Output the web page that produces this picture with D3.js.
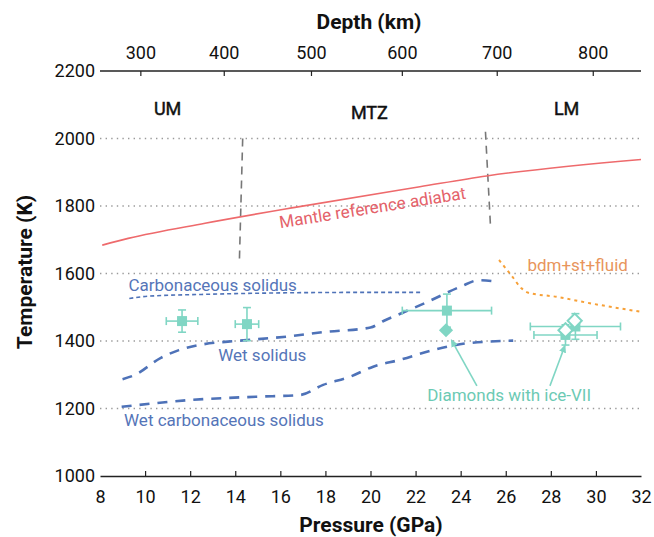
<!DOCTYPE html>
<html>
<head>
<meta charset="utf-8">
<script src="https://cdn.jsdelivr.net/npm/d3@7"></script>
<style>
  html, body { margin: 0; padding: 0; background: #fff; }
  svg { display: block; font-family: Roboto, "Noto Sans", sans-serif; }
</style>
</head>
<body>
<svg id="chart" width="654" height="537"></svg>
<script>
// ---------- data ----------
const pressureTicks = [8, 10, 12, 14, 16, 18, 20, 22, 24, 26, 28, 30, 32];
const tempTicks = [1000, 1200, 1400, 1600, 1800, 2000, 2200];
const depthTicks = [300, 400, 500, 600, 700, 800];
const depthTickPressure = [9.79, 13.49, 17.36, 21.39, 25.6, 29.86];

const adiabatP = [8.1, 9.25, 12.66, 16.65, 22.19, 25.15, 32];
const adiabatT = [1684, 1704, 1749, 1796, 1857, 1889, 1938];

const carbSolidusP = [9.3, 10.2, 12.5, 16.6, 19.5, 22.3];
const carbSolidusT = [1526, 1533, 1538, 1543, 1544, 1544];

const wetSolidusP = [9.0, 9.5, 10.7, 11.5, 12.4, 14.2, 16.3, 18.0, 20.0, 20.6, 21.4, 22.5, 24.0, 24.8, 25.6];
const wetSolidusT = [1287, 1298, 1350, 1373, 1388, 1401, 1413, 1427, 1440, 1460, 1483, 1515, 1561, 1580, 1576];

const wetCarbSolidusP = [8.96, 11.99, 14.95, 16.87, 17.9, 19.09, 20.12, 21.3, 22.77, 24.26, 26.33];
const wetCarbSolidusT = [1205, 1225, 1235, 1240, 1270, 1294, 1324, 1344, 1373, 1393, 1401];

const bdmP = [25.7, 26.3, 26.7, 27.0, 28.25, 29.73, 31.95];
const bdmT = [1640, 1590, 1556, 1543, 1531, 1512, 1487];

const boundary1P = [14.33, 14.18];
const boundary1T = [2000, 1628];
const boundary2P = [25.1, 25.32];
const boundary2T = [2020, 1744];

// filled squares with error bars
const sqP    = [11.64, 14.52, 23.39, 29.09, 28.65];
const sqT    = [1459, 1450, 1490, 1443, 1418];
const sqPerr = [0.7, 0.52, 1.98, 2.0, 1.4];
const sqTerr = [33, 49, 49, 38, 30];
// hollow diamonds
const hdP = [29.06, 28.65];
const hdT = [1460, 1432];
// filled diamond
const fdP = [23.35];
const fdT = [1432];

const zoneLabels = ["UM", "MTZ", "LM"];
const zoneP = [11.0, 19.95, 28.7];
const zoneT = [2070, 2058, 2070];

// ---------- setup ----------
const svg = d3.select("#chart");
const x = d3.scaleLinear().domain([8, 32]).range([100, 641]);
const y = d3.scaleLinear().domain([1000, 2200]).range([476, 71]);
const depthScale = d3.scaleLinear().domain(depthTicks).range(depthTickPressure.map(p => x(p)));

const teal = "#80d6c4";
const tealText = "#6ccab4";
const blue = "#4e72b8";
const blueText = "#5575b8";
const red = "#ee6a6c";
const orange = "#f7a037";

// gridlines
svg.append("g").selectAll("line")
  .data(tempTicks.filter(t => t > 1000 && t < 2200))
  .join("line")
  .attr("x1", x(8)).attr("x2", x(32))
  .attr("y1", d => y(d)).attr("y2", d => y(d))
  .attr("stroke", "#9a9a9a").attr("stroke-width", 1.4)
  .attr("stroke-dasharray", "1.4,4.2");

// y axis (labels only)
const yAxis = svg.append("g").attr("transform", `translate(${x(8)},0)`)
  .call(d3.axisLeft(y).tickValues(tempTicks).tickFormat(d3.format("d")).tickSize(0).tickPadding(5));
yAxis.select(".domain").remove();
yAxis.selectAll("text").attr("font-size", 18).attr("fill", "#111").attr("font-family", "Roboto");

// bottom axis
const xAxis = svg.append("g").attr("transform", `translate(0,${y(1000)})`)
  .call(d3.axisBottom(x).tickValues(pressureTicks).tickFormat(d3.format("d")).tickSizeInner(-5).tickSizeOuter(0).tickPadding(14));
xAxis.select(".domain").attr("stroke", "#222").attr("stroke-width", 1.5);
xAxis.selectAll(".tick line").attr("stroke", "#222").attr("stroke-width", 1.2);
xAxis.selectAll("text").attr("font-size", 18).attr("fill", "#111").attr("font-family", "Roboto");
xAxis.selectAll(".tick").filter(d => d === 8 || d === 32).select("line").remove();

// top axis
svg.append("line").attr("x1", x(8)).attr("x2", x(32)).attr("y1", y(2200)).attr("y2", y(2200))
  .attr("stroke", "#222").attr("stroke-width", 1.5);
const topAxis = svg.append("g").attr("transform", `translate(0,${y(2200)})`)
  .call(d3.axisTop(depthScale).tickValues(depthTicks).tickFormat(d3.format("d")).tickSizeInner(-5).tickSizeOuter(0).tickPadding(12));
topAxis.select(".domain").remove();
topAxis.selectAll(".tick line").attr("stroke", "#222").attr("stroke-width", 1.2);
topAxis.selectAll("text").attr("font-size", 18).attr("fill", "#111").attr("font-family", "Roboto");

// axis titles
svg.append("text").attr("x", 369).attr("y", 29).attr("text-anchor", "middle")
  .attr("font-size", 21).attr("font-weight", "bold").attr("fill", "#111").text("Depth (km)");
svg.append("text").attr("x", 371).attr("y", 532).attr("text-anchor", "middle")
  .attr("font-size", 21).attr("font-weight", "bold").attr("fill", "#111").text("Pressure (GPa)");
svg.append("text").attr("transform", "translate(32,272) rotate(-90)").attr("text-anchor", "middle")
  .attr("font-size", 21).attr("font-weight", "bold").attr("fill", "#111").text("Temperature (K)");

// zone labels
svg.append("g").selectAll("text").data(zoneLabels).join("text")
  .attr("x", (d, i) => x(zoneP[i])).attr("y", (d, i) => y(zoneT[i]))
  .attr("text-anchor", "middle").attr("font-size", 18).attr("fill", "#111")
  .attr("stroke", "#111").attr("stroke-width", 0.45)
  .text(d => d);

const zip = (P, T) => P.map((p, i) => [p, T[i]]);
const line = d3.line().x(d => x(d[0])).y(d => y(d[1])).curve(d3.curveMonotoneX);
const straight = d3.line().x(d => x(d[0])).y(d => y(d[1]));

// boundary dashed lines
[[boundary1P, boundary1T], [boundary2P, boundary2T]].forEach(([P, T]) => {
  svg.append("path").attr("d", straight(zip(P, T))).attr("fill", "none")
    .attr("stroke", "#777").attr("stroke-width", 1.6).attr("stroke-dasharray", "8,6");
});

// adiabat
svg.append("path").attr("d", line(zip(adiabatP, adiabatT))).attr("fill", "none")
  .attr("stroke", red).attr("stroke-width", 1.6);
svg.append("text").attr("transform", `translate(${x(20.13)},${y(1778)}) rotate(-9)`)
  .attr("text-anchor", "middle").attr("font-size", 17).attr("fill", "#e4626a").text("Mantle reference adiabat");

// bdm+st+fluid
svg.append("path").attr("d", line(zip(bdmP, bdmT))).attr("fill", "none")
  .attr("stroke", orange).attr("stroke-width", 2).attr("stroke-dasharray", "3,4");
svg.append("text").attr("x", x(29.19)).attr("y", y(1607.5)).attr("text-anchor", "middle")
  .attr("font-size", 17).attr("fill", "#e8955c").text("bdm+st+fluid");

// solidi
svg.append("path").attr("d", line(zip(carbSolidusP, carbSolidusT))).attr("fill", "none")
  .attr("stroke", blue).attr("stroke-width", 1.6).attr("stroke-dasharray", "4,3");
svg.append("path").attr("d", line(zip(wetSolidusP, wetSolidusT))).attr("fill", "none")
  .attr("stroke", blue).attr("stroke-width", 2.6).attr("stroke-dasharray", "10,8");
svg.append("path").attr("d", line(zip(wetCarbSolidusP, wetCarbSolidusT))).attr("fill", "none")
  .attr("stroke", blue).attr("stroke-width", 2.6).attr("stroke-dasharray", "10,8");

svg.append("text").attr("x", x(13.0)).attr("y", y(1547)).attr("text-anchor", "middle")
  .attr("font-size", 17).attr("fill", blueText).text("Carbonaceous solidus");
svg.append("text").attr("x", x(15.2)).attr("y", y(1340)).attr("text-anchor", "middle")
  .attr("font-size", 17).attr("fill", blueText).text("Wet solidus");
svg.append("text").attr("x", x(13.5)).attr("y", y(1147)).attr("text-anchor", "middle")
  .attr("font-size", 17).attr("fill", blueText).text("Wet carbonaceous solidus");

// error bars
const eb = svg.append("g").attr("stroke", teal).attr("stroke-width", 1.6).attr("fill", "none");
const cap = 4;
sqP.forEach((p, i) => {
  const cx = x(p), cy = y(sqT[i]);
  const xl = x(p - sqPerr[i]), xr = x(p + sqPerr[i]);
  const yt = y(sqT[i] + sqTerr[i]), yb = y(sqT[i] - sqTerr[i]);
  eb.append("line").attr("x1", xl).attr("x2", xr).attr("y1", cy).attr("y2", cy);
  eb.append("line").attr("x1", xl).attr("x2", xl).attr("y1", cy - cap).attr("y2", cy + cap);
  eb.append("line").attr("x1", xr).attr("x2", xr).attr("y1", cy - cap).attr("y2", cy + cap);
  eb.append("line").attr("x1", cx).attr("x2", cx).attr("y1", yt).attr("y2", yb);
  eb.append("line").attr("x1", cx - cap).attr("x2", cx + cap).attr("y1", yt).attr("y2", yt);
  eb.append("line").attr("x1", cx - cap).attr("x2", cx + cap).attr("y1", yb).attr("y2", yb);
});

// filled squares
const sqSize = 10;
svg.append("g").selectAll("rect").data(sqP).join("rect")
  .attr("x", d => x(d) - sqSize / 2).attr("y", (d, i) => y(sqT[i]) - sqSize / 2)
  .attr("width", sqSize).attr("height", sqSize).attr("fill", teal);

// filled diamond
svg.append("g").selectAll("rect").data(fdP).join("rect")
  .attr("transform", (d, i) => `translate(${x(d)},${y(fdT[i])}) rotate(45)`)
  .attr("x", -5).attr("y", -5).attr("width", 10).attr("height", 10).attr("fill", teal);

// hollow diamonds
svg.append("g").selectAll("rect").data(hdP).join("rect")
  .attr("transform", (d, i) => `translate(${x(d)},${y(hdT[i])}) rotate(45)`)
  .attr("x", -5).attr("y", -5).attr("width", 10).attr("height", 10)
  .attr("fill", "#fff").attr("stroke", teal).attr("stroke-width", 2);

// annotation arrows
const defs = svg.append("defs");
defs.append("marker").attr("id", "arr").attr("viewBox", "0 0 10 10").attr("refX", 8).attr("refY", 5)
  .attr("markerWidth", 8).attr("markerHeight", 8).attr("markerUnits", "userSpaceOnUse").attr("orient", "auto")
  .append("path").attr("d", "M0,0.5 L10,5 L0,9.5 Z").attr("fill", teal);
const arrowFromP = [24.72, 27.96];
const arrowFromT = [1267, 1267];
const arrowToP = [23.6, 28.62];
const arrowToT = [1402, 1385];
arrowFromP.forEach((p, i) => {
  svg.append("line")
    .attr("x1", x(p)).attr("y1", y(arrowFromT[i]))
    .attr("x2", x(arrowToP[i])).attr("y2", y(arrowToT[i]))
    .attr("stroke", teal).attr("stroke-width", 1.6).attr("marker-end", "url(#arr)");
});
svg.append("text").attr("x", x(26.15)).attr("y", y(1221)).attr("text-anchor", "middle")
  .attr("font-size", 17).attr("fill", tealText).text("Diamonds with ice-VII");
</script>
</body>
</html>
